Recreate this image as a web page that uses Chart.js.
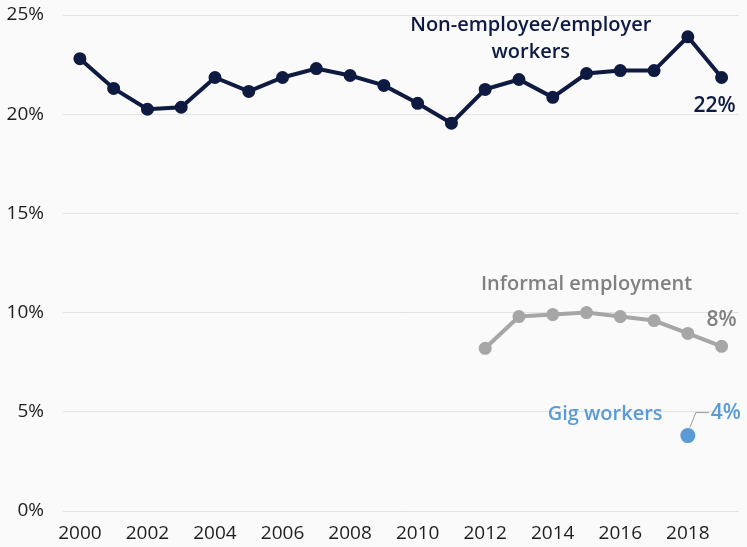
<!DOCTYPE html>
<html>
<head>
<meta charset="utf-8">
<script src="https://cdn.jsdelivr.net/npm/chart.js@4/dist/chart.umd.min.js"></script>
<style>
  html, body { margin: 0; padding: 0; background: #fafafa; }
  #wrap { width: 747px; height: 547px; }
</style>
</head>
<body>
<div id="wrap"><canvas id="myChart"></canvas></div>
<script>
var years = ['2000', '2001', '2002', '2003', '2004', '2005', '2006', '2007', '2008', '2009',
             '2010', '2011', '2012', '2013', '2014', '2015', '2016', '2017', '2018', '2019'];

var nonEmployee = [22.8, 21.3, 20.25, 20.35, 21.85, 21.15, 21.85, 22.3, 21.95, 21.45,
                   20.55, 19.55, 21.25, 21.75, 20.85, 22.05, 22.2, 22.2, 23.9, 21.85];

var informal = [null, null, null, null, null, null, null, null, null, null,
                null, null, 8.2, 9.8, 9.9, 10.0, 9.8, 9.6, 8.95, 8.3];

var gig = [null, null, null, null, null, null, null, null, null, null,
           null, null, null, null, null, null, null, null, 3.8, null];

var yTicks = [0, 5, 10, 15, 20, 25];

var navy = '#0e1a40';
var grey = '#a6a6a6';
var greyText = '#808080';
var blue = '#5b9bd5';

// series names and end values written next to the lines
var notes = {
	id: 'notes',
	afterDatasetsDraw: function(chart) {
		var ctx = chart.ctx;
		var x = chart.scales.x;
		var y = chart.scales.y;
		var last = years.length - 1;

		ctx.save();
		ctx.textAlign = 'center';
		ctx.textBaseline = 'middle';
		ctx.font = '600 20px "Open Sans"';

		ctx.fillStyle = navy;
		ctx.fillText('Non-employee/employer', x.getPixelForValue(13.35), y.getPixelForValue(24.5));
		ctx.fillText('workers', x.getPixelForValue(13.35), y.getPixelForValue(23.1));
		ctx.font = '600 21px "Open Sans"';
		ctx.fillText(Math.round(nonEmployee[last]) + '%', x.getPixelForValue(last) - 7, y.getPixelForValue(nonEmployee[last]) + 29);

		ctx.font = '600 20px "Open Sans"';
		ctx.fillStyle = greyText;
		ctx.fillText('Informal employment', x.getPixelForValue(15), y.getPixelForValue(11.45));
		ctx.font = '600 21px "Open Sans"';
		ctx.fillText(Math.round(informal[last]) + '%', x.getPixelForValue(last), y.getPixelForValue(informal[last]) - 26);

		// gig workers: label plus a small leader line to the point
		var gx = x.getPixelForValue(18);
		var gy = y.getPixelForValue(gig[18]);
		ctx.font = '600 20px "Open Sans"';
		ctx.fillStyle = blue;
		ctx.fillText('Gig workers', x.getPixelForValue(15.55), gy - 21);

		ctx.strokeStyle = '#9a9a9a';
		ctx.lineWidth = 1;
		ctx.beginPath();
		ctx.moveTo(gx + 2, gy - 8);
		ctx.lineTo(gx + 8, gy - 23);
		ctx.lineTo(gx + 21, gy - 23);
		ctx.stroke();

		ctx.textAlign = 'left';
		ctx.font = '600 21px "Open Sans"';
		ctx.fillText(Math.round(gig[18]) + '%', gx + 23, gy - 23);
		ctx.restore();
	}
};

var ctx = document.getElementById('myChart').getContext('2d');
var chart = new Chart(ctx, {
	type: 'line',
	data: {
		labels: years,
		datasets: [{
				label: 'Non-employee/employer workers',
				data: nonEmployee,
				borderColor: navy,
				backgroundColor: navy,
				borderWidth: 4,
				pointRadius: 4.5,
				tension: 0
			},
			{
				label: 'Informal employment',
				data: informal,
				borderColor: grey,
				backgroundColor: grey,
				borderWidth: 4,
				pointRadius: 4.5,
				tension: 0
			},
			{
				label: 'Gig workers',
				data: gig,
				borderColor: blue,
				backgroundColor: blue,
				borderWidth: 0,
				pointRadius: 7.5,
				showLine: false
			}
		]
	},
	options: {
		responsive: true,
		maintainAspectRatio: false,
		animation: false,
		layout: { padding: { top: 15, right: 7, left: 0, bottom: 0 } },
		plugins: {
			legend: { display: false },
			tooltip: { enabled: false }
		},
		scales: {
			x: {
				offset: true,
				grid: { display: false },
				border: { display: false },
				afterFit: function(scale) {
					scale.height = 36;
					scale.paddingLeft = 0;
					scale.paddingRight = 0;
				},
				ticks: {
					autoSkip: false,
					maxRotation: 0,
					padding: 3,
					color: '#1e1e1e',
					font: { family: 'Open Sans', size: 19 },
					callback: function(value, index) {
						return index % 2 === 0 ? years[index] : '';
					}
				}
			},
			y: {
				min: 0,
				max: 25,
				border: { display: false },
				grid: { color: '#e3e3e3', lineWidth: 1, drawTicks: false },
				afterFit: function(scale) {
					scale.width = 63;
					scale.paddingTop = 0;
					scale.paddingBottom = 0;
				},
				afterBuildTicks: function(scale) {
					scale.ticks = yTicks.map(function(v) { return { value: v }; });
				},
				ticks: {
					padding: 19,
					color: '#1e1e1e',
					font: { family: 'Open Sans', size: 19 },
					callback: function(value) { return value + '%'; }
				}
			}
		}
	},
	plugins: [notes]
});
</script>
</body>
</html>
